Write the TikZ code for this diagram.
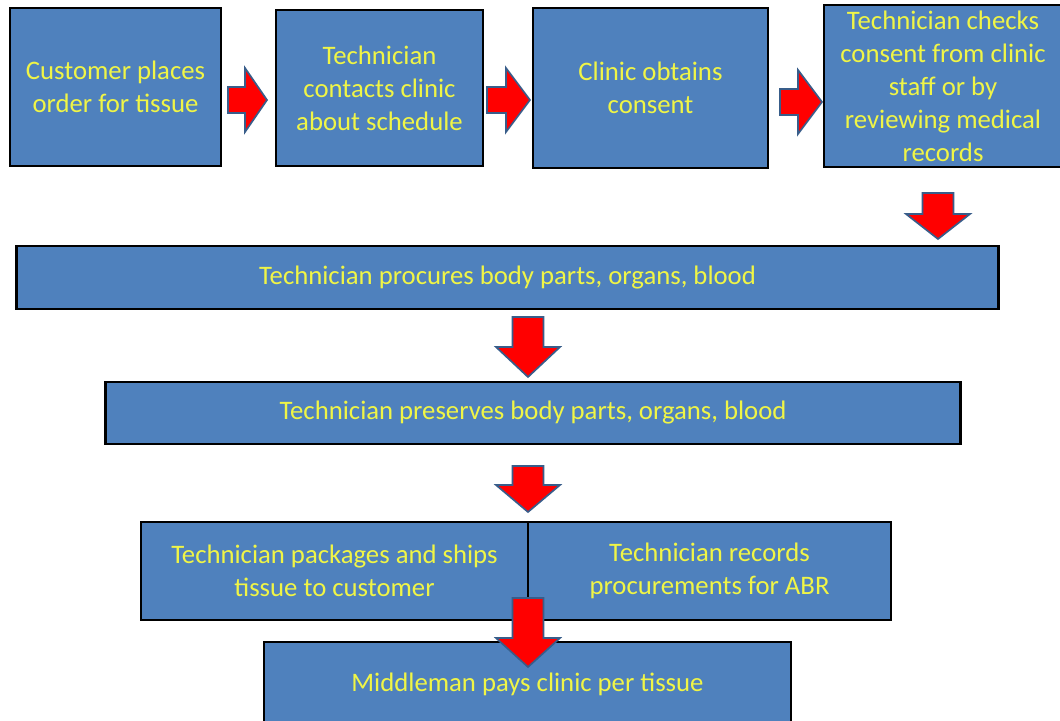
\documentclass[tikz,border=0pt]{standalone}
\usepackage{fontspec}
\setmainfont{Carlito}
\usepackage{tikz}
\definecolor{boxblue}{RGB}{79,129,189}
\definecolor{textyellow}{RGB}{240,245,70}
\definecolor{arrowedge}{RGB}{56,93,138}

\begin{document}
\begin{tikzpicture}[
            x=0.025cm, y=-0.025cm,
            step_box/.style={rectangle, draw=black, line width=2pt, fill=boxblue,
                text=textyellow, align=center, inner sep=0pt,
                font=\fontsize{19}{23.5}\selectfont},
            block_arrow/.style={draw=arrowedge, line width=1.2pt, fill=red, line join=miter},
            pics/downarrow/.style args={#1/#2}{code={
                \draw[block_arrow] (-15.5,0) -- (15.5,0) -- (15.5,#1) -- (32,#1)
                    -- (0,#1+#2) -- (-32,#1) -- (-15.5,#1) -- cycle;}},
            pics/rightarrow/.style args={#1/#2}{code={
                \draw[block_arrow] (0,-13) -- (#1,-13) -- (#1,-32) -- (#1+#2,0)
                    -- (#1,32) -- (#1,13) -- (0,13) -- cycle;}}
        ]
        \clip (0,0) rectangle (1060,721);
        \fill[white] (0,0) rectangle (1060,721);

        % Top row
        \node[step_box, minimum width=5.275cm, minimum height=3.95cm] (order) at (115.5,87)
            {Customer places\\order for tissue};
        \node[step_box, minimum width=5.175cm, minimum height=3.9cm] (contact) at (379.5,88)
            {Technician\\contacts clinic\\about schedule};
        \node[step_box, minimum width=5.875cm, minimum height=4.0cm] (consent) at (650.5,88)
            {Clinic obtains\\consent};
        \node[step_box, minimum width=5.95cm, minimum height=4.05cm] (check) at (943,86)
            {Technician checks\\consent from clinic\\staff or by\\reviewing medical\\records};

        % Wide steps
        \node[step_box, minimum width=24.525cm, minimum height=1.575cm] (procure) at (507.5,277.5)
            {Technician procures body parts, organs, blood};
        \node[step_box, minimum width=21.35cm, minimum height=1.55cm] (preserve) at (533,413)
            {Technician preserves body parts, organs, blood};

        % Split step
        \node[step_box, minimum width=9.675cm, minimum height=2.45cm] (ship) at (334.5,571)
            {Technician packages and ships\\tissue to customer};
        \node[step_box, minimum width=9.075cm, minimum height=2.45cm] (records) at (709.5,571)
            {Technician records\\procurements for ABR};

        % Bottom step
        \node[step_box, minimum width=13.175cm, minimum height=2.1cm] (pay) at (527.5,684)
            {Middleman pays clinic per tissue};

        % Block arrows
        \pic at (228,100) {rightarrow=17/22};
        \pic at (487,100) {rightarrow=19/24};
        \pic at (780,102) {rightarrow=18/24};

        \pic at (938,193) {downarrow=21/25};
        \pic at (528,317) {downarrow=30/30};
        \pic at (528,466) {downarrow=19/27};
        \pic at (528,598) {downarrow=40/29};

    \end{tikzpicture}
\end{document}
